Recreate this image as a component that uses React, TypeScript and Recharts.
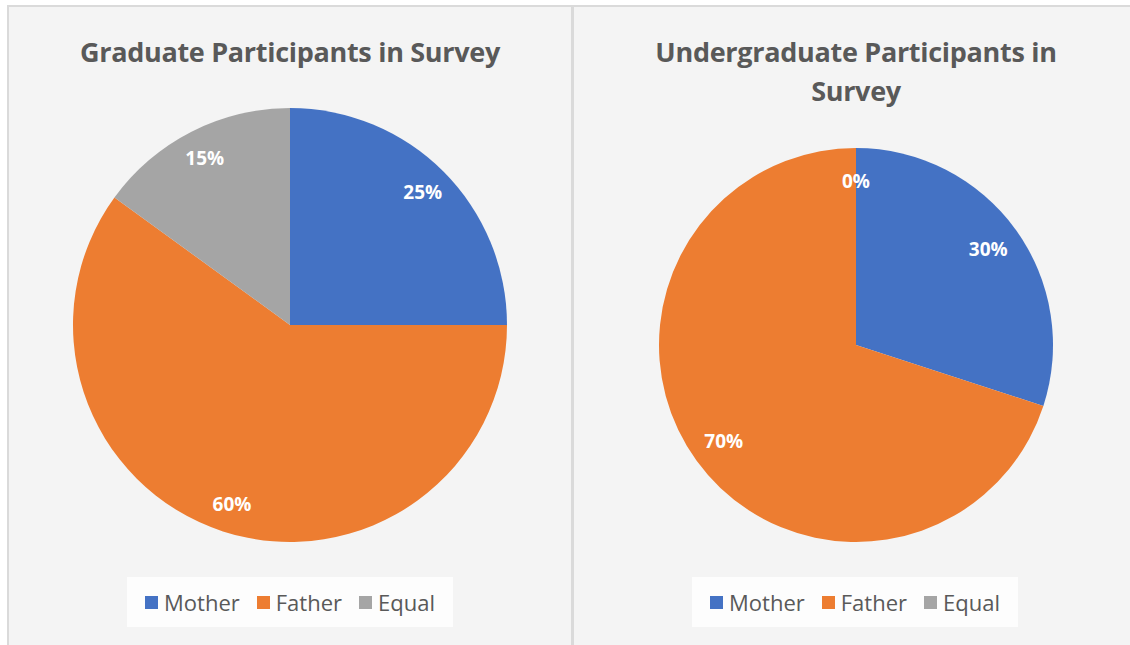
import React from "react";
import { PieChart, Pie, Cell, Legend } from "recharts";

const categories = ["Mother", "Father", "Equal"];
const graduateValues = [25, 60, 15];
const undergraduateValues = [30, 70, 0];
const colors = ["#4472C4", "#ED7D31", "#A5A5A5"];
const graduateTitle = ["Graduate Participants in Survey"];
const undergraduateTitle = ["Undergraduate Participants in", "Survey"];

const FONT = "'Open Sans', 'Noto Sans', sans-serif";
const TEXT = "#595959";

const buildData = (values: number[]) =>
  categories.map((name, i) => ({ name, value: values[i] }));

const makeLabel = (factor: number) => (props: any) => {
  const { cx, cy, midAngle, outerRadius, percent } = props;
  const RAD = Math.PI / 180;
  const r = outerRadius * factor;
  const x = cx + r * Math.cos(-midAngle * RAD);
  const y = cy + r * Math.sin(-midAngle * RAD);
  return (
    <text
      x={x}
      y={y}
      fill="#ffffff"
      fontFamily={FONT}
      fontWeight={700}
      fontSize={19}
      textAnchor="middle"
      dominantBaseline="central"
    >
      {`${Math.round(percent * 100)}%`}
    </text>
  );
};

const LegendContent = () => (
  <div
    style={{
      width: "100%",
      height: "100%",
      background: "#fdfdfd",
      display: "flex",
      alignItems: "center",
      justifyContent: "center",
      fontFamily: FONT,
      fontSize: 22,
      color: TEXT,
      gap: 17,
    }}
  >
    {categories.map((c, i) => (
      <div key={c} style={{ display: "flex", alignItems: "center" }}>
        <span
          style={{
            display: "inline-block",
            width: 13,
            height: 13,
            background: colors[i],
            marginRight: 6,
          }}
        />
        <span>{c}</span>
      </div>
    ))}
  </div>
);

type PanelProps = {
  left: number;
  width: number;
  title: string[];
  values: number[];
  cx: number;
  cy: number;
  r: number;
  labelFactor: number;
  titleTop: number;
};

const Panel = ({ left, width, title, values, cx, cy, r, labelFactor, titleTop }: PanelProps) => {
  const data = buildData(values);
  return (
    <div
      style={{
        position: "absolute",
        left,
        top: 5,
        width,
        height: 700,
        boxSizing: "border-box",
        border: "2px solid #dadada",
        background: "#f4f4f4",
      }}
    >
      <div style={{ position: "absolute", left: 0, top: 0 }}>
        <PieChart
          width={width - 4}
          height={660}
          margin={{ top: 0, right: 0, bottom: 0, left: 0 }}
        >
          <Pie
            data={data}
            dataKey="value"
            nameKey="name"
            cx={cx}
            cy={cy}
            outerRadius={r}
            startAngle={90}
            endAngle={-270}
            stroke="none"
            label={makeLabel(labelFactor)}
            labelLine={false}
            isAnimationActive={false}
          >
            {data.map((d, i) => (
              <Cell key={d.name} fill={colors[i]} />
            ))}
          </Pie>
          <Legend
            content={<LegendContent />}
            wrapperStyle={{
              position: "absolute",
              left: 118,
              top: 570,
              width: 326,
              height: 50,
            }}
          />
        </PieChart>
      </div>
      <div
        style={{
          position: "absolute",
          left: cx - 300,
          width: 600,
          top: titleTop,
          textAlign: "center",
          fontFamily: FONT,
          fontWeight: 700,
          fontSize: 27,
          letterSpacing: -0.3,
          lineHeight: "39px",
          color: TEXT,
        }}
      >
        {title.map((t) => (
          <div key={t}>{t}</div>
        ))}
      </div>
    </div>
  );
};

export default function App() {
  return (
    <div
      style={{
        position: "absolute",
        left: 0,
        top: 0,
        width: 1130,
        height: 645,
        overflow: "hidden",
        background: "#ffffff",
      }}
    >
      <Panel
        left={7}
        width={566}
        title={graduateTitle}
        values={graduateValues}
        cx={281}
        cy={318}
        r={217}
        labelFactor={0.865}
        titleTop={25}
      />
      <Panel
        left={572}
        width={600}
        title={undergraduateTitle}
        values={undergraduateValues}
        cx={282}
        cy={338}
        r={197}
        labelFactor={0.83}
        titleTop={25}
      />
    </div>
  );
}
